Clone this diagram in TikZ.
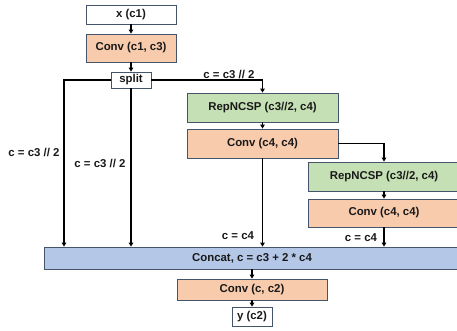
\documentclass[tikz,border=0pt]{standalone}
\usepackage{fontspec}
\setmainfont{Liberation Sans}
\usetikzlibrary{arrows.meta}
\definecolor{bord}{RGB}{68,84,106}
\definecolor{orng}{RGB}{248,203,173}
\definecolor{grn}{RGB}{197,224,180}
\definecolor{blu}{RGB}{180,199,231}
\begin{document}
\begin{tikzpicture}[x=1pt,y=-1pt,
  box/.style={draw=bord,line width=0.8pt,inner sep=0pt,font=\fontsize{11.4}{13}\selectfont\bfseries,text=black!90},
  lbl/.style={inner sep=0pt,font=\fontsize{11.4}{13}\selectfont\bfseries,text=black!90},
  conn/.style={line width=1.6pt,-{Triangle[width=4.5pt,length=4pt]}}]
\useasboundingbox (0,0) rectangle (457,330);
\fill[white] (0,0) rectangle (457,330);
\node[box,fill=white,minimum width=90,minimum height=19] (x) at (131,14.5) {x (c1)};
\node[box,fill=orng,minimum width=90,minimum height=28] (cv1) at (131,48) {Conv (c1, c3)};
\node[box,fill=white,minimum width=40,minimum height=16] (sp) at (131,80) {split};
\node[box,fill=grn,minimum width=151,minimum height=29] (rep1) at (262.5,107.5) {RepNCSP (c3//2, c4)};
\node[box,fill=orng,minimum width=151,minimum height=29] (cv2) at (262.5,143.5) {Conv (c4, c4)};
\node[box,fill=grn,minimum width=152,minimum height=29] (rep2) at (384,176.5) {RepNCSP (c3//2, c4)};
\node[box,fill=orng,minimum width=152,minimum height=28] (cv3) at (384,213) {Conv (c4, c4)};
\node[box,fill=blu,minimum width=416,minimum height=22] (cat) at (252,258) {Concat, c = c3 + 2 * c4};
\node[box,fill=orng,minimum width=150,minimum height=21] (cv4) at (252,289.5) {Conv (c, c2)};
\node[box,fill=white,minimum width=40,minimum height=19] (y) at (252,316.5) {y (c2)};
\coordinate (L) at (64,80);
\draw[conn] (x) -- (cv1);
\draw[conn] (cv1) -- (sp);
\draw[conn] (sp.west) -- (L) -- (L |- cat.north);
\draw[conn] (sp.south) -- (sp.south |- cat.north);
\draw[conn] (sp.east) -| (rep1.north);
\draw[conn] (rep1) -- (cv2);
\draw[conn] (cv2.east) -| (rep2.north);
\draw[conn] (rep2) -- (cv3);
\draw[conn] (cv2.south) -- (cv2.south |- cat.north);
\draw[conn] (cv3.south) -- (cv3.south |- cat.north);
\draw[conn] (cat) -- (cv4);
\draw[conn] (cv4) -- (y);
\node[lbl] (l1) at (34,152) {c = c3 // 2};
\node[lbl] (l2) at (100,163) {c = c3 // 2};
\node[lbl] (l3) at (229,74) {c = c3 // 2};
\node[lbl] (l4) at (238,236) {c = c4};
\node[lbl] (l5) at (361,238) {c = c4};
\end{tikzpicture}
\end{document}
